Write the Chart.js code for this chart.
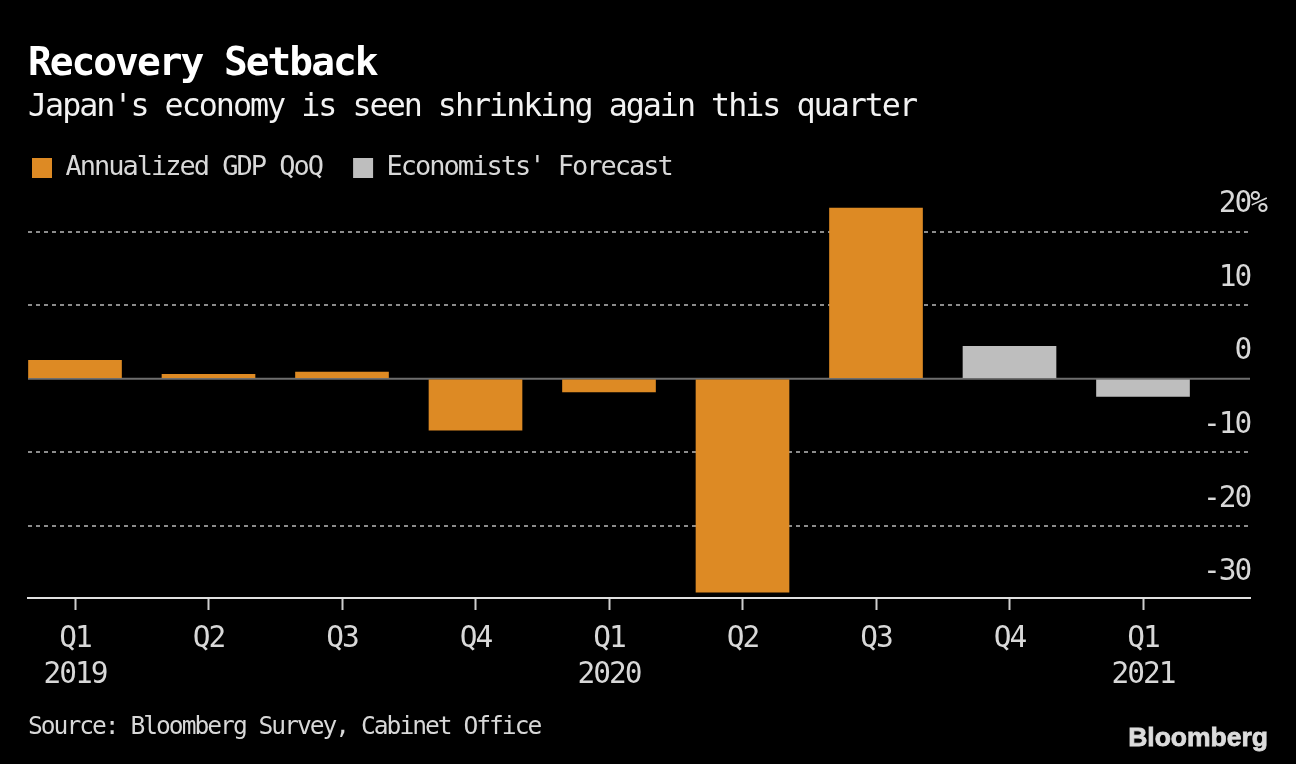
<!DOCTYPE html>
<html><head><meta charset="utf-8">
<style>html,body{margin:0;padding:0;background:#000;overflow:hidden}canvas{display:block}</style>
<script src="https://cdn.jsdelivr.net/npm/chart.js@4"></script>
</head><body><canvas id="c" width="1296" height="764"></canvas>
<script>
const quarters = ['Q1','Q2','Q3','Q4','Q1','Q2','Q3','Q4','Q1'];
const years = ['2019','','','','2020','','','','2021'];
const gdpValues = [2.5,0.6,0.9,-7.0,-1.8,-29.0,23.2,null,null];
const forecastValues = [null,null,null,null,null,null,null,4.4,-2.4];
const yTicks = [-30,-20,-10,0,10,20];
const titleText = 'Recovery Setback';
const subtitleText = "Japan's economy is seen shrinking again this quarter";
const sourceText = 'Source: Bloomberg Survey, Cabinet Office';
const logoText = 'Bloomberg';
const FONT = "'DejaVu Sans Mono'";
const TEXT = '#d8d8d8';

const toPoints = v => v.map((y,i)=>({x:i,y})).filter(p=>p.y!==null);
const spacing = c => { c.ctx.letterSpacing='-2px'; };

const fx = {
  id:'fx',
  beforeInit:spacing, beforeUpdate:spacing, beforeLayout:spacing,
  afterLayout(c){
    const ts=c.boxes.filter(b=>b.options&&b.options.text!==undefined&&b.options.display!==false);
    ts.forEach(b=>{ b.left=28; b.right=1296;
      if(b.options.text===titleText){b.top=41;b.bottom=89;}
      else {b.top=89;b.bottom=127;} });
    c.legend.left=1; c.legend.top=123.5; c.legend.bottom=212.5;
  },
  beforeDraw(c){
    spacing(c);
    const x=c.ctx; x.save(); x.fillStyle='#000'; x.fillRect(0,0,c.width,c.height); x.restore();
  },
  beforeDatasetsDraw(c){
    const x=c.ctx,y=c.scales.y.getPixelForValue(0);
    x.save(); x.strokeStyle='#6e6e6e'; x.lineWidth=2; x.beginPath();
    x.moveTo(c.chartArea.left,y); x.lineTo(c.chartArea.right,y); x.stroke(); x.restore();
  },
  afterDraw(c){
    const x=c.ctx; x.save();
    x.textBaseline='middle'; x.textAlign='left'; x.fillStyle=TEXT;
    x.font="24.6px "+FONT; x.fillText(sourceText,28,728);
    x.letterSpacing='0px'; x.textAlign='right'; x.fillStyle='#dcdcdc'; x.strokeStyle='#dcdcdc'; x.lineWidth=0.8;
    x.font="bold 26.5px 'Liberation Sans'"; x.fillText(logoText,1268,739); x.strokeText(logoText,1268,739);
    x.restore();
  }
};

new Chart(document.getElementById('c'),{
  type:'bar',
  data:{datasets:[
    {label:'Annualized GDP QoQ',data:toPoints(gdpValues),backgroundColor:'#DD8A24',barThickness:93,grouped:false},
    {label:"Economists' Forecast",data:toPoints(forecastValues),backgroundColor:'#BEBEBE',barThickness:93,grouped:false}
  ]},
  plugins:[fx],
  options:{
    responsive:false,animation:false,devicePixelRatio:1,
    layout:{padding:{top:46.5,left:28,right:0,bottom:0}},
    plugins:{
      title:{display:true,text:titleText,align:'start',color:'#fff',padding:0,font:{family:FONT,size:39.5,weight:'bold',lineHeight:1.2}},
      subtitle:{display:true,text:subtitleText,align:'start',color:'#f2f2f2',padding:0,font:{family:FONT,size:31.7,weight:'normal',lineHeight:1.2}},
      legend:{display:true,position:'top',align:'start',labels:{color:TEXT,boxWidth:20,boxHeight:20,padding:31,font:{family:FONT,size:27}}},
      tooltip:{enabled:false}
    },
    scales:{
      x:{type:'linear',offset:false,min:-47/133.5,max:8+107/133.5,
        afterBuildTicks(s){s.ticks=quarters.map((q,i)=>({value:i}));},
        afterFit(s){s.height=166;},
        grid:{display:true,offset:false,drawOnChartArea:false,drawTicks:true,tickLength:12,tickColor:'#cfcfcf',tickWidth:2},
        border:{display:true,color:'#e0e0e0',width:2},
        ticks:{autoSkip:false,maxRotation:0,padding:11,color:TEXT,font:{family:FONT,size:29.5,lineHeight:1.22},
          callback:v=>years[v]?[quarters[v],years[v]]:quarters[v]}
      },
      y:{type:'linear',position:'right',min:-29.8,max:24.3,
        afterBuildTicks(s){s.ticks=yTicks.map(v=>({value:v}));},
        afterFit(s){s.width=46;},
        grid:{drawTicks:false,lineWidth:2,color:ctx=>(ctx.tick&&(ctx.tick.value===0||ctx.tick.value===-30))?'rgba(0,0,0,0)':'#8c8c8c'},
        border:{display:false,dash:[4,4]},
        ticks:{autoSkip:false,mirror:true,crossAlign:'near',padding:16,labelOffset:-27,color:TEXT,font:{family:FONT,size:29.5},
          callback:v=>v===20?'20%':v+'\u00A0'}
      }
    }
  }
});
</script></body></html>
